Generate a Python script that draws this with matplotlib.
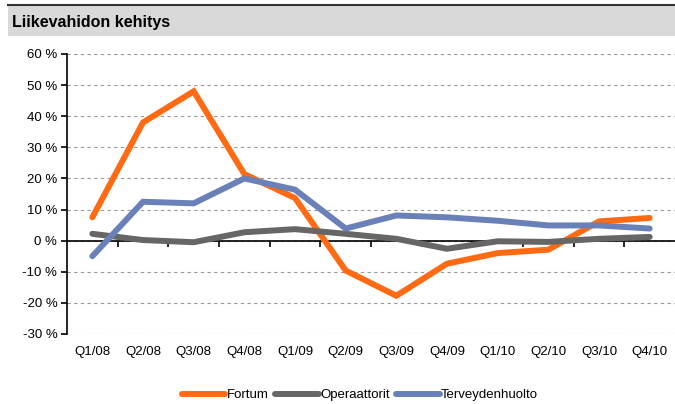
import matplotlib
matplotlib.use("Agg")
import matplotlib.pyplot as plt
from matplotlib.patches import Rectangle
from matplotlib.lines import Line2D
import numpy as np

plt.rcParams['font.family'] = ['Liberation Sans', 'DejaVu Sans']

quarters = ["Q1/08", "Q2/08", "Q3/08", "Q4/08", "Q1/09", "Q2/09",
            "Q3/09", "Q4/09", "Q1/10", "Q2/10", "Q3/10", "Q4/10"]
fortum = [7.5, 38, 48, 21.4, 13.7, -9.6, -17.7, -7.4, -4.0, -2.9, 6.2, 7.3]
operaattorit = [2.2, 0.2, -0.5, 2.7, 3.7, 2.2, 0.6, -2.6, -0.2, -0.4, 0.6, 1.2]
terveys = [-5, 12.5, 12, 20, 16.4, 3.9, 8.1, 7.5, 6.4, 4.9, 4.9, 3.9]
series_names = ["Fortum", "Operaattorit", "Terveydenhuolto"]
colors = ["#FF6A13", "#666666", "#6A80B8"]
yticks = list(range(-30, 61, 10))

fig = plt.figure(figsize=(6.75, 4.04), dpi=100)

# title band
fig.patches.append(Rectangle((8 / 675, 1 - 36 / 404), 1 - 8 / 675, 31 / 404,
                             transform=fig.transFigure, facecolor="#D9D9D9",
                             edgecolor="none", zorder=0))
fig.lines.append(Line2D([8 / 675, 1], [1 - 5 / 404, 1 - 5 / 404],
                        transform=fig.transFigure, color="#333333", lw=1.5))
fig.text(12 / 675, 1 - 22 / 404, "Liikevahidon kehitys", fontsize=11.5,
         fontweight="bold", va="center", ha="left")

ax = fig.add_axes([67 / 675, 1 - 334 / 404, 1 - 67 / 675, 280 / 404])
x = np.arange(len(quarters))
for vals, name, c in zip([fortum, operaattorit, terveys], series_names, colors):
    ax.plot(x, vals, color=c, lw=4.3, solid_capstyle="round",
            solid_joinstyle="miter", label=name, zorder=3)

ax.set_xlim(-0.5, len(quarters) - 0.5)
ax.set_ylim(-30, 60)
ax.set_yticks(yticks)
ax.set_yticklabels([f"{v} %" for v in yticks], fontsize=9.5)
for v in yticks:
    ax.axhline(v, color="#999999", lw=0.8, ls=(0, (3, 3)), zorder=1)
ax.axhline(0, color="black", lw=1.2, zorder=2)

for s in ["top", "right", "bottom"]:
    ax.spines[s].set_visible(False)
ax.spines["left"].set_linewidth(1.2)
ax.tick_params(axis="y", direction="out", length=4, width=1.2, pad=3)
ax.set_xticks(x)
ax.set_xticklabels(quarters, fontsize=9.5)
ax.tick_params(axis="x", length=0, pad=9)

sec = ax.secondary_xaxis(1 / 3)
sec.set_xticks(np.arange(0.5, len(quarters) - 0.5, 1.0))
sec.set_xticklabels([])
sec.spines["bottom"].set_visible(False)
sec.tick_params(axis="x", direction="out", length=4, width=1.2)

fig.legend(*ax.get_legend_handles_labels(), loc="center",
           bbox_to_anchor=(360 / 675, 1 - 395 / 404), ncol=3,
           frameon=False, fontsize=9.5, handlelength=3.3, handletextpad=0.1,
           columnspacing=0.5, borderpad=0.1)

fig.savefig("out.png", dpi=100)
